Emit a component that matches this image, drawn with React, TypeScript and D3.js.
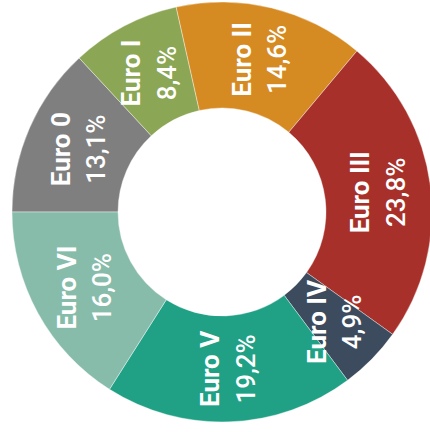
import React from "react";
import * as d3 from "d3";

const categories = ["Euro 0", "Euro I", "Euro II", "Euro III", "Euro IV", "Euro V", "Euro VI"];
const values = [13.1, 8.4, 14.6, 23.8, 4.9, 19.2, 16.0];
const valueLabels = ["13,1%", "8,4%", "14,6%", "23,8%", "4,9%", "19,2%", "16,0%"];
const colors = ["#7f7f7f", "#8ba654", "#d68a22", "#a8302b", "#3c4b5e", "#20a185", "#87bcab"];

const W = 430;
const H = 432;
const CX = 222;
const CY = 212;
const R_OUT = 210;
const R_IN = 104;

export default function App() {
  const pie = d3
    .pie<number>()
    .sort(null)
    .value((d) => d)
    .startAngle(-Math.PI / 2)
    .endAngle((3 * Math.PI) / 2);
  const arcs = pie(values);
  const arc = d3.arc<d3.PieArcDatum<number>>().innerRadius(R_IN).outerRadius(R_OUT);
  const fontSize = 26;
  const capHalf = (fontSize * 0.711) / 2;
  const gap = 17.75;
  return (
    <svg
      width={W}
      height={H}
      style={{ position: "fixed", left: 0, top: 0, background: "#fff" }}
    >
      <g transform={`translate(${CX},${CY})`}>
        {arcs.map((a, i) => (
          <path key={i} d={arc(a) || ""} fill={colors[i]} stroke="#fff" strokeWidth={0.4} />
        ))}
        {arcs.map((a, i) => {
          const [x, y] = arc.centroid(a);
          return (
            <g key={"t" + i} transform={`translate(${x},${y}) rotate(-90)`}>
              <text
                x={0}
                y={-gap + capHalf}
                textAnchor="middle"
                fill="#fff"
                fontFamily="Roboto, 'Open Sans', sans-serif"
                fontWeight={700}
                fontSize={fontSize}
              >
                {categories[i]}
              </text>
              <text
                x={0}
                y={gap + capHalf}
                textAnchor="middle"
                fill="#fff"
                fontFamily="Roboto, 'Open Sans', sans-serif"
                fontWeight={500}
                fontSize={fontSize}
              >
                {valueLabels[i]}
              </text>
            </g>
          );
        })}
      </g>
    </svg>
  );
}
